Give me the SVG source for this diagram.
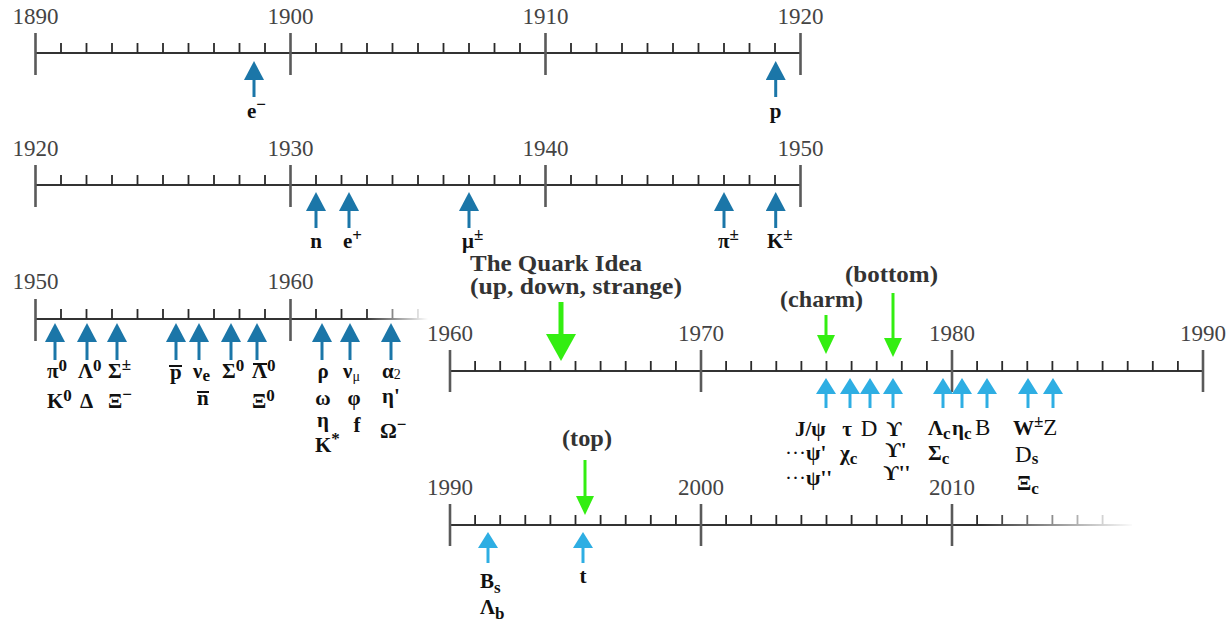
<svg xmlns="http://www.w3.org/2000/svg" width="1227" height="622" viewBox="0 0 1227 622">
<style>
.ax{stroke:#333;stroke-width:2;fill:none}
.mj{stroke:#5a5a5a;stroke-width:2.6;fill:none}
.mn{stroke:#2a2a2a;stroke-width:1.8;fill:none}
.yr{font-family:"Liberation Serif","DejaVu Serif",serif;font-size:23px;fill:#444;text-anchor:middle}
.pl{font-family:"Liberation Serif","DejaVu Serif",serif;font-weight:bold;font-size:21px;fill:#111}
.rg{font-family:"Liberation Serif","DejaVu Serif",serif;font-weight:normal;font-size:23px;fill:#111}
.s{font-size:17px}
.q{font-family:"Liberation Serif","DejaVu Serif",serif;font-weight:bold;font-size:23px;fill:#333}
.mid{text-anchor:middle}
.bar{stroke:#111;stroke-width:2;fill:none}
.ad{stroke:#1b76a8;stroke-width:3;fill:none}
.al{stroke:#2eaee3;stroke-width:3;fill:none}
.ag{stroke:#33ee11;stroke-width:3;fill:none}
.agb{stroke:#33ee11;stroke-width:5;fill:none}
</style>
<defs>
<marker id="hd" markerUnits="userSpaceOnUse" markerWidth="19" markerHeight="20" viewBox="0 -10 19 20" refX="0" refY="0" orient="auto"><path d="M0,-10 L19,0 L0,10 Z" fill="#1b76a8"/></marker>
<marker id="hl" markerUnits="userSpaceOnUse" markerWidth="16" markerHeight="20" viewBox="0 -10 16 20" refX="0" refY="0" orient="auto"><path d="M0,-10 L16,0 L0,10 Z" fill="#2eaee3"/></marker>
<marker id="hg" markerUnits="userSpaceOnUse" markerWidth="19" markerHeight="18" viewBox="0 -9 19 18" refX="0" refY="0" orient="auto"><path d="M0,-9 L19,0 L0,9 Z" fill="#33ee11"/></marker>
<marker id="hgb" markerUnits="userSpaceOnUse" markerWidth="27" markerHeight="30" viewBox="0 -15 27 30" refX="0" refY="0" orient="auto"><path d="M0,-15 L27,0 L0,15 Z" fill="#33ee11"/></marker>
<linearGradient id="f3" gradientUnits="userSpaceOnUse" x1="365" y1="0" x2="428" y2="0"><stop offset="0" stop-color="#fff"/><stop offset="1" stop-color="#000"/></linearGradient>
<linearGradient id="f5" gradientUnits="userSpaceOnUse" x1="980" y1="0" x2="1135" y2="0"><stop offset="0" stop-color="#fff"/><stop offset="1" stop-color="#000"/></linearGradient>
<mask id="m3" maskUnits="userSpaceOnUse" x="0" y="280" width="460" height="70"><rect x="0" y="280" width="460" height="70" fill="url(#f3)"/></mask>
<mask id="m5" maskUnits="userSpaceOnUse" x="400" y="490" width="800" height="70"><rect x="400" y="490" width="800" height="70" fill="url(#f5)"/></mask>
</defs>

<g id="timeline-1890">
<path class="ax" d="M35.5,53 H800.5"/>
<path class="mj" d="M35.5,33 V75 M290.5,33 V75 M545.5,33 V75 M800.5,33 V75"/>
<path class="mn" d="M61,43V53 M86.5,43V53 M112,43V53 M137.5,43V53 M163,43V53 M188.5,43V53 M214,43V53 M239.5,43V53 M265,43V53 M316,43V53 M341.5,43V53 M367,43V53 M392.5,43V53 M418,43V53 M443.5,43V53 M469,43V53 M494.5,43V53 M520,43V53 M571,43V53 M596.5,43V53 M622,43V53 M647.5,43V53 M673,43V53 M698.5,43V53 M724,43V53 M749.5,43V53 M775,43V53"/>
<text class="yr" x="35.5" y="24">1890</text><text class="yr" x="290.5" y="24">1900</text><text class="yr" x="545.5" y="24">1910</text><text class="yr" x="800.5" y="24">1920</text>
</g>

<g id="timeline-1920">
<path class="ax" d="M35.5,185 H800.5"/>
<path class="mj" d="M35.5,165 V207 M290.5,165 V207 M545.5,165 V207 M800.5,165 V207"/>
<path class="mn" d="M61,175V185 M86.5,175V185 M112,175V185 M137.5,175V185 M163,175V185 M188.5,175V185 M214,175V185 M239.5,175V185 M265,175V185 M316,175V185 M341.5,175V185 M367,175V185 M392.5,175V185 M418,175V185 M443.5,175V185 M469,175V185 M494.5,175V185 M520,175V185 M571,175V185 M596.5,175V185 M622,175V185 M647.5,175V185 M673,175V185 M698.5,175V185 M724,175V185 M749.5,175V185 M775,175V185"/>
<text class="yr" x="35.5" y="156">1920</text><text class="yr" x="290.5" y="156">1930</text><text class="yr" x="545.5" y="156">1940</text><text class="yr" x="800.5" y="156">1950</text>
</g>

<g id="timeline-1950">
<g mask="url(#m3)">
<path class="ax" d="M35.5,319 H428"/>
<path class="mj" d="M35.5,299 V341 M290.5,299 V341"/>
<path class="mn" d="M61,309V319 M86.5,309V319 M112,309V319 M137.5,309V319 M163,309V319 M188.5,309V319 M214,309V319 M239.5,309V319 M265,309V319 M316,309V319 M341.5,309V319 M367,309V319 M392.5,309V319 M418,309V319"/>
</g>
<text class="yr" x="35.5" y="289">1950</text><text class="yr" x="290.5" y="289">1960</text>
</g>

<g id="timeline-1960">
<path class="ax" d="M450,371 H1203"/>
<path class="mj" d="M450,350 V392 M701,350 V392 M952,350 V392 M1203,350 V392"/>
<path class="mn" d="M475.1,361V371 M500.2,361V371 M525.3,361V371 M550.4,361V371 M575.5,361V371 M600.6,361V371 M625.7,361V371 M650.8,361V371 M675.9,361V371 M726.1,361V371 M751.2,361V371 M776.3,361V371 M801.4,361V371 M826.5,361V371 M851.6,361V371 M876.7,361V371 M901.8,361V371 M926.9,361V371 M977.1,361V371 M1002.2,361V371 M1027.3,361V371 M1052.4,361V371 M1077.5,361V371 M1102.6,361V371 M1127.7,361V371 M1152.8,361V371 M1177.9,361V371"/>
<text class="yr" x="450" y="341">1960</text><text class="yr" x="701" y="341">1970</text><text class="yr" x="952" y="341">1980</text><text class="yr" x="1203" y="341">1990</text>
</g>

<g id="timeline-1990">
<g mask="url(#m5)">
<path class="ax" d="M450,525 H1132"/>
<path class="mj" d="M450,504 V546 M701,504 V546 M952,504 V546"/>
<path class="mn" d="M475.1,515V525 M500.2,515V525 M525.3,515V525 M550.4,515V525 M575.5,515V525 M600.6,515V525 M625.7,515V525 M650.8,515V525 M675.9,515V525 M726.1,515V525 M751.2,515V525 M776.3,515V525 M801.4,515V525 M826.5,515V525 M851.6,515V525 M876.7,515V525 M901.8,515V525 M926.9,515V525 M977.1,515V525 M1002.2,515V525 M1027.3,515V525 M1052.4,515V525 M1077.5,515V525 M1102.6,515V525"/>
</g>
<text class="yr" x="450" y="495">1990</text><text class="yr" x="701" y="495">2000</text><text class="yr" x="952" y="495">2010</text>
</g>

<g id="connectors">
<path class="ad" marker-end="url(#hd)" d="M254,97 V80"/>
<path class="ad" marker-end="url(#hd)" d="M775.7,97 V80"/>
<path class="ad" marker-end="url(#hd)" d="M316,228 V211"/>
<path class="ad" marker-end="url(#hd)" d="M349,228 V211"/>
<path class="ad" marker-end="url(#hd)" d="M469,228 V211"/>
<path class="ad" marker-end="url(#hd)" d="M724,228 V211"/>
<path class="ad" marker-end="url(#hd)" d="M775.7,228 V211"/>
<path class="ad" marker-end="url(#hd)" d="M55,360 V342"/>
<path class="ad" marker-end="url(#hd)" d="M87,360 V342"/>
<path class="ad" marker-end="url(#hd)" d="M117,360 V342"/>
<path class="ad" marker-end="url(#hd)" d="M176,360 V342"/>
<path class="ad" marker-end="url(#hd)" d="M199,360 V342"/>
<path class="ad" marker-end="url(#hd)" d="M231,360 V342"/>
<path class="ad" marker-end="url(#hd)" d="M257,360 V342"/>
<path class="ad" marker-end="url(#hd)" d="M322,360 V342"/>
<path class="ad" marker-end="url(#hd)" d="M350,360 V342"/>
<path class="ad" marker-end="url(#hd)" d="M391,360 V342"/>
<path class="al" marker-end="url(#hl)" d="M826,408 V394"/>
<path class="al" marker-end="url(#hl)" d="M850,408 V394"/>
<path class="al" marker-end="url(#hl)" d="M870,408 V394"/>
<path class="al" marker-end="url(#hl)" d="M893,408 V394"/>
<path class="al" marker-end="url(#hl)" d="M943,408 V394"/>
<path class="al" marker-end="url(#hl)" d="M962,408 V394"/>
<path class="al" marker-end="url(#hl)" d="M987,408 V394"/>
<path class="al" marker-end="url(#hl)" d="M1028,408 V394"/>
<path class="al" marker-end="url(#hl)" d="M1053,408 V394"/>
<path class="al" marker-end="url(#hl)" d="M488,563 V548"/>
<path class="al" marker-end="url(#hl)" d="M583,563 V548"/>
<path class="agb" marker-end="url(#hgb)" d="M561,302 V334"/>
<path class="ag" marker-end="url(#hg)" d="M826,315 V335"/>
<path class="ag" marker-end="url(#hg)" d="M893,293 V338"/>
<path class="ag" marker-end="url(#hg)" d="M585,460 V496"/>
</g>

<g id="quark-labels">
<text class="q" x="470" y="271" textLength="172" lengthAdjust="spacingAndGlyphs">The Quark Idea</text>
<text class="q" x="470" y="294" textLength="212" lengthAdjust="spacingAndGlyphs">(up, down, strange)</text>
<text class="q" x="780" y="307" textLength="83" lengthAdjust="spacingAndGlyphs">(charm)</text>
<text class="q" x="845" y="282" textLength="93" lengthAdjust="spacingAndGlyphs">(bottom)</text>
<text class="q" x="562" y="446" textLength="50" lengthAdjust="spacingAndGlyphs">(top)</text>
</g>

<g id="particles-1890s">
<text class="pl" x="247" y="118">e<tspan class="s" dy="-8">−</tspan></text>
<text class="pl mid" x="775.7" y="118">p</text>
</g>

<g id="particles-1930s">
<text class="pl mid" x="316" y="248">n</text>
<text class="pl" x="343" y="248">e<tspan class="s" dy="-7">+</tspan></text>
<text class="pl" x="462" y="248">μ<tspan class="s" dy="-8">±</tspan></text>
<text class="pl" x="718" y="248">π<tspan class="s" dy="-8">±</tspan></text>
<text class="pl" x="767" y="248">K<tspan class="s" dy="-8">±</tspan></text>
</g>

<g id="particles-1950s">
<text class="pl" x="47" y="378">π<tspan class="s" dy="-7">0</tspan></text>
<text class="pl" x="78" y="378">Λ<tspan class="s" dy="-7">0</tspan></text>
<text class="pl" x="108" y="378">Σ<tspan class="s" dy="-8">±</tspan></text>
<text class="pl" x="47" y="408">K<tspan class="s" dy="-7">0</tspan></text>
<text class="pl" x="80" y="408">Δ</text>
<text class="pl" x="108" y="408">Ξ<tspan class="s" dy="-8">−</tspan></text>
<text class="pl" x="170" y="379">p</text>
<path class="bar" d="M169,366 H182 M197,392 H209 M253,364 H267"/>
<text class="pl" x="193" y="378">ν<tspan class="s" dy="3">e</tspan></text>
<text class="pl" x="197" y="405">n</text>
<text class="pl" x="222" y="378">Σ<tspan class="s" dy="-7">0</tspan></text>
<text class="pl" x="252" y="378">Λ<tspan class="s" dy="-7">0</tspan></text>
<text class="pl" x="252" y="408">Ξ<tspan class="s" dy="-7">0</tspan></text>
<text class="pl mid" x="323" y="378">ρ</text>
<text class="pl mid" x="323" y="405">ω</text>
<text class="pl mid" x="323" y="427">η</text>
<text class="pl" x="315" y="452">K<tspan class="s" dy="-8">*</tspan></text>
<text class="pl" x="343" y="378">ν<tspan font-weight="normal" font-size="14" dy="3">μ</tspan></text>
<text class="pl mid" x="354" y="405">φ</text>
<text class="pl mid" x="357" y="432">f</text>
<text class="pl" x="382" y="378">α<tspan font-weight="normal" font-size="14" dy="1">2</tspan></text>
<text class="pl" x="382" y="403">η'</text>
<text class="pl" x="380" y="438">Ω<tspan class="s" dy="-8">−</tspan></text>
</g>

<g id="particles-1970s">
<text class="pl" x="795" y="436">J/ψ</text>
<text class="pl mid" x="847" y="436">τ</text>
<text class="rg mid" x="869" y="436">D</text>
<text class="pl mid" x="894" y="436">ϒ</text>
<text class="pl" x="785" y="460"><tspan font-weight="normal">···</tspan>ψ'</text>
<text class="pl" x="840" y="460">χ<tspan class="s" dy="4">c</tspan></text>
<text class="pl mid" x="896" y="457">ϒ'</text>
<text class="pl mid" x="897" y="480">ϒ''</text>
<text class="pl" x="785" y="485"><tspan font-weight="normal">···</tspan>ψ''</text>
<text class="pl" x="928" y="435">Λ<tspan class="s" dy="4">c</tspan></text>
<text class="pl" x="952" y="435">η<tspan class="s" dy="4">c</tspan></text>
<text class="rg" x="975" y="435">B</text>
<text class="pl" x="1013" y="435">W<tspan class="s" dy="-8">±</tspan><tspan class="rg" dy="8">Z</tspan></text>
<text class="pl" x="928" y="460">Σ<tspan class="s" dy="4">c</tspan></text>
<text class="rg" x="1015" y="462">D<tspan class="s" font-weight="bold" dy="2">s</tspan></text>
<text class="pl" x="1017" y="490">Ξ<tspan class="s" dy="4">c</tspan></text>
</g>

<g id="particles-1990s">
<text class="pl" x="480" y="588">B<tspan class="s" dy="5">s</tspan></text>
<text class="pl" x="480" y="614">Λ<tspan class="s" dy="5">b</tspan></text>
<text class="pl mid" x="583" y="583">t</text>
</g>
</svg>
